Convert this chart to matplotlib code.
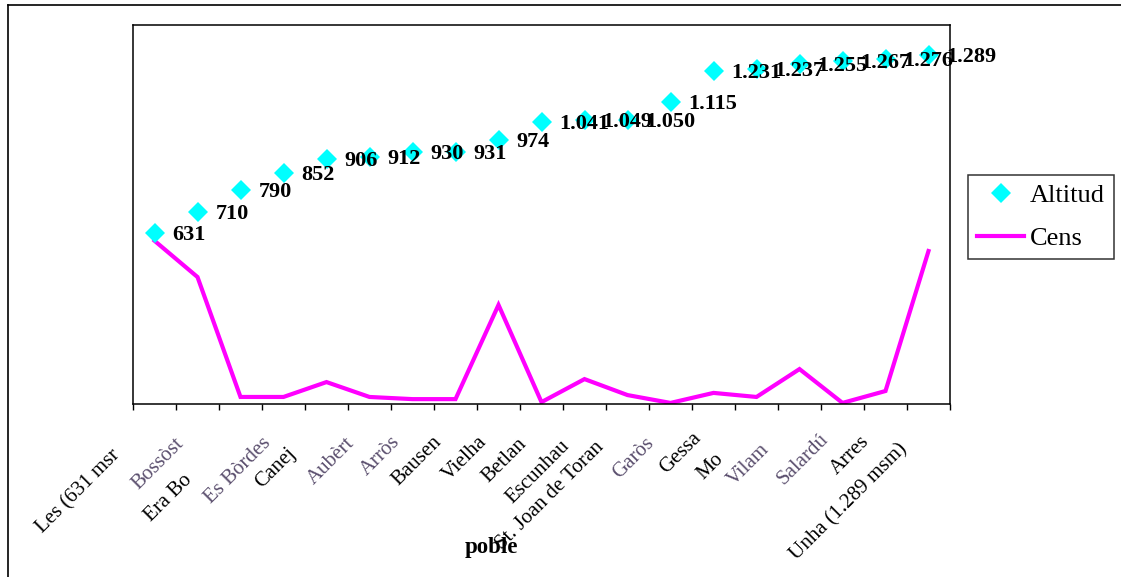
import matplotlib
matplotlib.use("Agg")
import matplotlib.pyplot as plt
from matplotlib.lines import Line2D
from matplotlib import transforms

# ---- data ----
pobles = ["Les (631 msr", "Bossòst", "Era Bo", "Es Bòrdes", "Canej", "Aubèrt",
          "Arròs", "Bausen", "Vielha", "Betlan", "Escunhau", "St. Joan de Toran",
          "Garòs", "Gessa", "Mo", "Vilam", "Salardú", "Arres", "Unha (1.289 msm)"]
altitud = [631, 710, 790, 852, 906, 912, 930, 931, 974, 1041, 1049, 1050,
           1115, 1231, 1237, 1255, 1267, 1276, 1289]
cens = [603, 469, 26, 26, 81, 26, 18, 18, 366, 7, 92, 33, 4, 41, 26, 129, 4,
        48, 565]
blurred = ["Bossòst", "Es Bòrdes", "Aubèrt", "Arròs", "Garòs", "Vilam", "Salardú"]

# ---- layout (pixel offsets of tick labels: dx, dy below axis) ----
label_offsets = [(-30, 42), (-10, 30), (-45, 67), (-9, 30), (-27, 40), (-11, 30),
                 (-8, 28), (-10, 28), (-8, 28), (-11, 30), (-11, 32), (-20, 34),
                 (-12, 30), (-8, 25), (-29, 46), (-26, 36), (-10, 26), (-12, 28),
                 (-17, 36)]

W, H = 1121, 577
fig = plt.figure(figsize=(W / 100, H / 100), dpi=100)
fig.patch.set_facecolor("white")
serif = ["Liberation Serif", "DejaVu Serif"]

# outer frame
fig.add_artist(Line2D([8 / W, 8 / W], [1 - 5 / H, 0], transform=fig.transFigure,
                      color="black", lw=1.2))
fig.add_artist(Line2D([8 / W, 1], [1 - 5 / H, 1 - 5 / H], transform=fig.transFigure,
                      color="black", lw=1.2))

left, right, top, bottom = 133, 950, 25, 404
ax = fig.add_axes([left / W, 1 - bottom / H, (right - left) / W, (bottom - top) / H])
n = len(pobles)
x = list(range(n))

ax.plot(x, cens, color="#FF00FF", lw=3, solid_joinstyle="miter", label="Cens",
        zorder=2)
ax.plot(x, altitud, linestyle="none", marker="D", ms=10, color="#00FFFF",
        mec="#00FFFF", mew=0, label="Altitud", zorder=3)

ax.set_xlim(-0.5, n - 0.5)
ax.set_ylim(0, 1400)
ax.set_yticks([])
ax.set_xticks([i - 0.5 for i in range(n + 1)])
ax.set_xticklabels([])
ax.tick_params(axis="x", direction="out", length=4.5, width=1, color="black")
for s in ax.spines.values():
    s.set_linewidth(1.1)
    s.set_color("black")

# data labels
def fmt(v):
    return f"{v:,}".replace(",", ".")

for i, v in enumerate(altitud):
    off = transforms.offset_copy(ax.transData, fig=fig, x=18, y=-2, units="dots")
    ax.text(i, v, fmt(v), transform=off, ha="left", va="center",
            fontsize=16, fontweight="bold", family=serif, color="black",
            zorder=4, clip_on=False)

# category labels
blend = transforms.blended_transform_factory(ax.transData, ax.transAxes)
for i, name in enumerate(pobles):
    dx, dy = label_offsets[i]
    tr = blend + transforms.ScaledTranslation(dx / 100, -dy / 100, fig.dpi_scale_trans)
    col = "#5b4f6e" if name in blurred else "black"
    ax.text(i, 0, name, transform=tr, rotation=45, ha="right", va="top",
            fontsize=15, family=serif, color=col, clip_on=False)

# axis title
fig.text(491 / W, 1 - 547 / H, "poble", ha="center", va="center",
         fontsize=16.5, fontweight="bold", family=serif)

# legend
handles = [Line2D([], [], linestyle="none", marker="D", ms=10, color="#00FFFF", mew=0),
           Line2D([], [], color="#FF00FF", lw=3)]
leg = fig.legend(handles, ["Altitud", "Cens"], loc="upper left",
                 bbox_to_anchor=(968 / W, 1 - 175 / H), bbox_transform=fig.transFigure,
                 borderaxespad=0, prop={"family": serif, "size": 19},
                 handlelength=1.8, handletextpad=0.2, borderpad=0.34,
                 labelspacing=0.72, fancybox=False, frameon=True)
leg.get_frame().set_edgecolor("black")
leg.get_frame().set_linewidth(1.1)

fig.savefig("out.png", dpi=100, facecolor="white")
